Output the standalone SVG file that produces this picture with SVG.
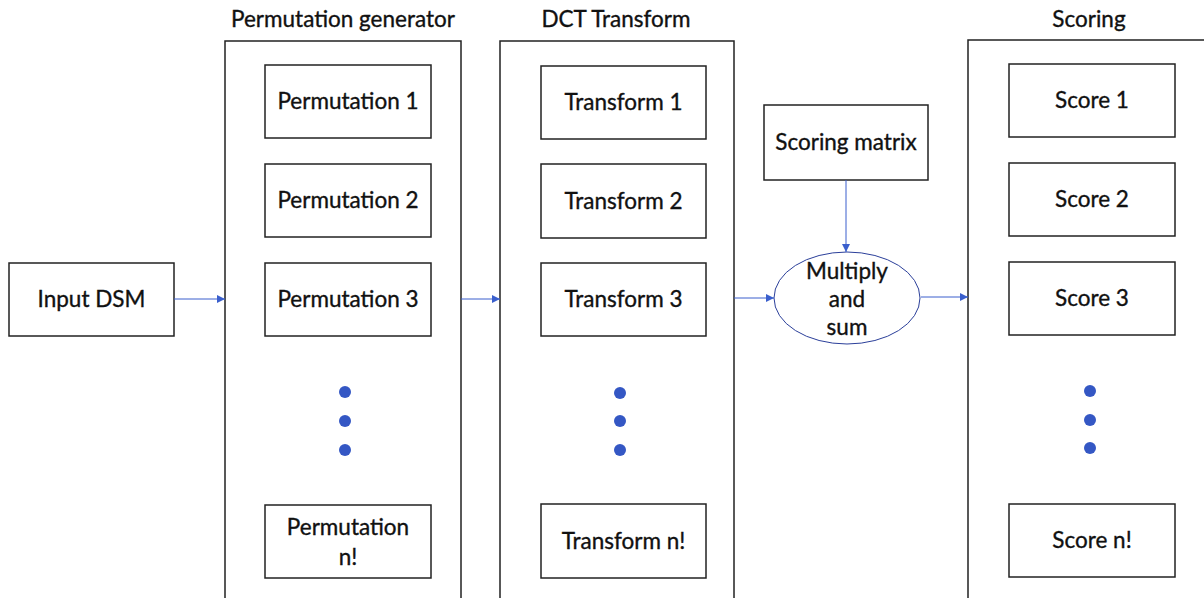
<svg xmlns="http://www.w3.org/2000/svg" width="1204" height="598" viewBox="0 0 1204 598">
<defs>
<style>
.box{fill:#fff;stroke:#222;stroke-width:1.5}
.outer{fill:none;stroke:#222;stroke-width:1.5}
.t{font-family:Lato,"Open Sans",sans-serif;font-size:22.5px;fill:#111;stroke:#111;stroke-width:0.35;text-anchor:middle}
.dot{fill:#3457c4}
.conn{stroke:#3a5fcd;stroke-width:1;fill:none;marker-end:url(#ah)}
</style>
<marker id="ah" viewBox="0 0 10 10" refX="10" refY="5" markerWidth="8" markerHeight="8" markerUnits="userSpaceOnUse" orient="auto">
<path d="M0,0 L10,5 L0,10 z" fill="#3a5fcd"/>
</marker>
</defs>
<rect width="1204" height="598" fill="#fff"/>

<g id="input-dsm">
<rect class="box" x="9" y="263" width="165" height="73"/>
<text class="t" x="91.5" y="307">Input DSM</text>
</g>

<g id="permutation-generator">
<text class="t" x="343" y="27">Permutation generator</text>
<rect class="outer" x="225" y="41" width="236" height="570"/>
<g id="perm1"><rect class="box" x="265" y="65" width="166" height="73"/><text class="t" x="348" y="109">Permutation 1</text></g>
<g id="perm2"><rect class="box" x="265" y="164" width="166" height="73"/><text class="t" x="348" y="208">Permutation 2</text></g>
<g id="perm3"><rect class="box" x="265" y="263" width="166" height="73"/><text class="t" x="348" y="307">Permutation 3</text></g>
<circle class="dot" cx="345" cy="392" r="6"/><circle class="dot" cx="345" cy="421" r="6"/><circle class="dot" cx="345" cy="450" r="6"/>
<g id="permn"><rect class="box" x="265" y="505" width="166" height="73"/><text class="t" x="348" y="535">Permutation</text><text class="t" x="348" y="565">n!</text></g>
</g>

<g id="dct-transform">
<text class="t" x="616" y="27">DCT Transform</text>
<rect class="outer" x="500" y="41" width="234" height="570"/>
<g id="tr1"><rect class="box" x="541" y="66" width="165" height="73"/><text class="t" x="623.5" y="110">Transform 1</text></g>
<g id="tr2"><rect class="box" x="541" y="164" width="165" height="74"/><text class="t" x="623.5" y="209">Transform 2</text></g>
<g id="tr3"><rect class="box" x="541" y="263" width="165" height="73"/><text class="t" x="623.5" y="307">Transform 3</text></g>
<circle class="dot" cx="620" cy="393" r="6"/><circle class="dot" cx="620" cy="421" r="6"/><circle class="dot" cx="620" cy="450" r="6"/>
<g id="trn"><rect class="box" x="541" y="504" width="165" height="74"/><text class="t" x="623.5" y="549">Transform n!</text></g>
</g>

<g id="scoring-matrix">
<rect class="box" x="764" y="105" width="164" height="75"/>
<text class="t" x="846" y="150">Scoring matrix</text>
</g>

<g id="multiply-sum">
<ellipse cx="847" cy="298" rx="73" ry="46" fill="#fff" stroke="#2b3f9a" stroke-width="1"/>
<text class="t" x="847" y="279">Multiply</text>
<text class="t" x="847" y="307">and</text>
<text class="t" x="847" y="335">sum</text>
</g>

<g id="scoring">
<text class="t" x="1089" y="27">Scoring</text>
<rect class="outer" x="968" y="40" width="250" height="570"/>
<g id="sc1"><rect class="box" x="1009" y="64" width="166" height="73"/><text class="t" x="1092" y="108">Score 1</text></g>
<g id="sc2"><rect class="box" x="1009" y="163" width="166" height="73"/><text class="t" x="1092" y="207">Score 2</text></g>
<g id="sc3"><rect class="box" x="1009" y="262" width="166" height="73"/><text class="t" x="1092" y="306">Score 3</text></g>
<circle class="dot" cx="1090" cy="391" r="6"/><circle class="dot" cx="1090" cy="420" r="6"/><circle class="dot" cx="1090" cy="448" r="6"/>
<g id="scn"><rect class="box" x="1009" y="504" width="166" height="73"/><text class="t" x="1092" y="548">Score n!</text></g>
</g>

<g id="connectors">
<line class="conn" x1="174" y1="299" x2="225" y2="299"/>
<line class="conn" x1="461" y1="299" x2="500" y2="299"/>
<line class="conn" x1="734" y1="298" x2="774" y2="298"/>
<line class="conn" x1="921" y1="297" x2="968" y2="297"/>
<line class="conn" x1="846" y1="180" x2="846" y2="252"/>
</g>
</svg>
